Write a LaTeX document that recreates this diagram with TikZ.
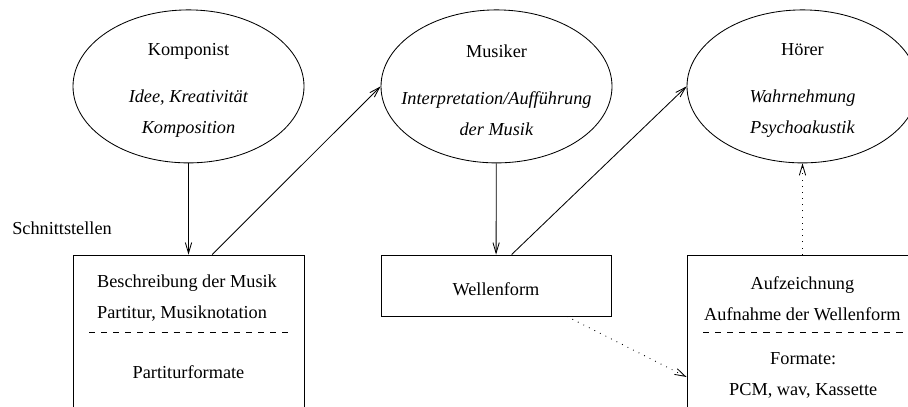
\documentclass[tikz,border=0pt]{standalone}
\usepackage{fontspec}
\setmainfont{Liberation Serif}
\usetikzlibrary{shapes.geometric,arrows.meta}

\begin{document}
\begin{tikzpicture}
      [>={Straight Barb[length=7.5pt,width=4.5pt]},line width=0.6pt,
       font=\fontsize{13}{22}\selectfont,
       person node/.style={ellipse,draw,minimum width=5.775cm,minimum height=3.825cm},
       text node/.style={align=center,inner sep=0pt},
       box node/.style={rectangle,draw,minimum width=5.775cm,minimum height=6.1cm},
       sep line/.style={dash pattern=on 4.3pt off 4.3pt},
       dot line/.style={dash pattern=on 0.6pt off 3.8pt}]
        \clip (0,0) rectangle (22.7,10.15);

        \node[person node] (komponist) at (4.7125,7.99) {};
        \node[person node] (musiker) at (12.4125,7.99) {};
        \node[person node] (hoerer) at (20.0625,7.99) {};
        \node[text node] (komponisttext) at (4.7125,7.89) {Komponist\\[0.4cm]\textit{Idee, Kreativität}\\\textit{Komposition}};
        \node[text node] (musikertext) at (12.4125,7.89) {Musiker\\[0.4cm]\textit{Interpretation/Aufführung}\\\textit{der Musik}};
        \node[text node] (hoerertext) at (20.0625,7.89) {Hörer\\[0.4cm]\textit{Wahrnehmung}\\\textit{Psychoakustik}};

        \node (schnitt) at (1.55,4.45) {Schnittstellen};

        \node[box node] (partitur) at (4.7125,0.725) {};
        \node[draw,minimum width=5.75cm,minimum height=1.525cm] (wellenform) at (12.4,3.0125) {};
        \node (wellenformtext) at (12.4,2.93) {Wellenform};
        \node[box node] (aufzeichnung) at (20.0625,0.725) {};

        \node[align=left,inner sep=0pt] (partiturtext) at (4.675,2.69) {Beschreibung der Musik\\Partitur, Musiknotation};
        \node (formate) at (4.7125,0.85) {Partiturformate};
        \draw[sep line] (2.225,1.85) -- (7.3,1.85);

        \node[text node] (aufzeichnungtext) at (20.06,2.69) {Aufzeichnung\\Aufnahme der Wellenform};
        \node[text node] (wavtext) at (20.08,0.765) {Formate:\\PCM, wav, Kassette};
        \draw[sep line] (17.575,1.85) -- (22.625,1.85);


        \draw[->] (komponist) -- (partitur);
        \draw[->] ([xshift=0.59cm]partitur.north) -- (musiker.west);
        \draw[->] (musiker) -- (wellenform);
        \draw[->] ([xshift=0.39cm]wellenform.north) -- (hoerer.west);
        \draw[->,dot line] ([xshift=1.77cm]wellenform.south) -- (aufzeichnung.west);
        \draw[->,dot line] (aufzeichnung) -- (hoerer);

      \end{tikzpicture}
\end{document}
